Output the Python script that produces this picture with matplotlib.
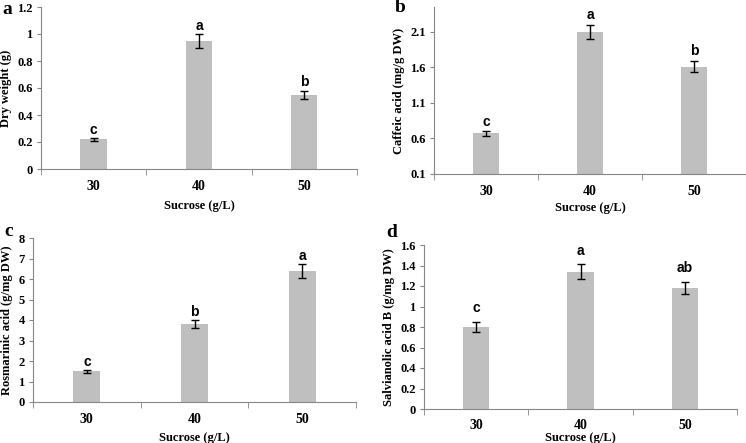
import matplotlib.pyplot as plt
import numpy as np

plt.rcParams['font.family'] = ['Liberation Serif', 'DejaVu Serif']

# Data
sucrose = ['30', '40', '50']

dry_weight = [0.22, 0.95, 0.55]
dry_weight_err = [0.01, 0.05, 0.03]
dry_weight_grp = ['c', 'a', 'b']

caffeic = [0.67, 2.10, 1.61]
caffeic_err = [0.03, 0.10, 0.08]
caffeic_grp = ['c', 'a', 'b']

rosmarinic = [1.50, 3.80, 6.40]
rosmarinic_err = [0.08, 0.20, 0.33]
rosmarinic_grp = ['c', 'b', 'a']

salvianolic = [0.80, 1.34, 1.18]
salvianolic_err = [0.045, 0.07, 0.06]
salvianolic_grp = ['c', 'a', 'ab']

W, H = 746, 443
fig = plt.figure(figsize=(W / 100, H / 100), dpi=100)


def px_axes(left, top, right, bottom):
    return fig.add_axes([left / W, 1 - bottom / H, (right - left) / W, (bottom - top) / H])


def panel(ax, vals, errs, groups, ylabel, yticks, ylim, grp_pad, tick_pad, xlab_pad):
    x = np.arange(len(sucrose))
    ax.bar(x, vals, width=0.25, color='#BFBFBF', zorder=2)
    ax.errorbar(x, vals, yerr=errs, fmt='none', ecolor='black', elinewidth=1,
                capsize=3, capthick=1, zorder=3)
    for xi, v, e, g in zip(x, vals, errs, groups):
        ax.annotate(g, (xi, v + e), xytext=(0, grp_pad), textcoords='offset points',
                    ha='center', va='bottom', fontsize=10, fontweight='bold',
                    family=['Liberation Sans', 'DejaVu Sans'])
    ax.set_xlim(-0.5, 2.5)
    ax.set_ylim(*ylim)
    ax.set_yticks(yticks)
    ax.set_yticklabels([f'{t:g}' for t in yticks], fontsize=9, fontweight='bold')
    ax.set_xticks(x)
    ax.set_xticklabels(sucrose, fontsize=10, fontweight='bold')
    ax.set_xticks([-0.5, 0.5, 1.5, 2.5], minor=True)
    ax.tick_params(axis='x', which='major', length=0, pad=tick_pad)
    ax.tick_params(axis='x', which='minor', length=4, color='#868686', direction='out')
    ax.tick_params(axis='y', length=3, color='#868686', pad=3)
    for s in ['top', 'right']:
        ax.spines[s].set_visible(False)
    for s in ['left', 'bottom']:
        ax.spines[s].set_color('#868686')
    ax.set_xlabel('Sucrose (g/L)', fontsize=9, fontweight='bold', labelpad=xlab_pad)
    ax.set_ylabel(ylabel, fontsize=9, fontweight='bold', labelpad=4)
    return ax


ax_a = px_axes(41, 7, 357, 169)
panel(ax_a, dry_weight, dry_weight_err, dry_weight_grp, 'Dry weight (g)',
      [0, 0.2, 0.4, 0.6, 0.8, 1, 1.2], (0, 1.2), 1, 8, 5)

ax_b = px_axes(434, 7, 746, 174)
panel(ax_b, caffeic, caffeic_err, caffeic_grp, 'Caffeic acid (mg/g DW)',
      [0.1, 0.6, 1.1, 1.6, 2.1], (0.1, 2.45), 2, 8, 3)

ax_c = px_axes(33, 238, 356, 402)
panel(ax_c, rosmarinic, rosmarinic_err, rosmarinic_grp, 'Rosmarinic acid (g/mg DW)',
      [0, 1, 2, 3, 4, 5, 6, 7, 8], (0, 8), 0.5, 8, 4)

ax_d = px_axes(424, 245, 737, 409)
panel(ax_d, salvianolic, salvianolic_err, salvianolic_grp, 'Salvianolic acid B (g/mg DW)',
      [0, 0.2, 0.4, 0.6, 0.8, 1, 1.2, 1.4, 1.6], (0, 1.6), 5, 7, 0)

# panel letters
for tag, (px, py) in zip('abcd', [(2, 10), (395, 8), (4, 232), (386, 233)]):
    fig.text(px / W, 1 - py / H, tag, fontsize=14, fontweight='bold', va='center')

fig.savefig('out.png', dpi=100)
